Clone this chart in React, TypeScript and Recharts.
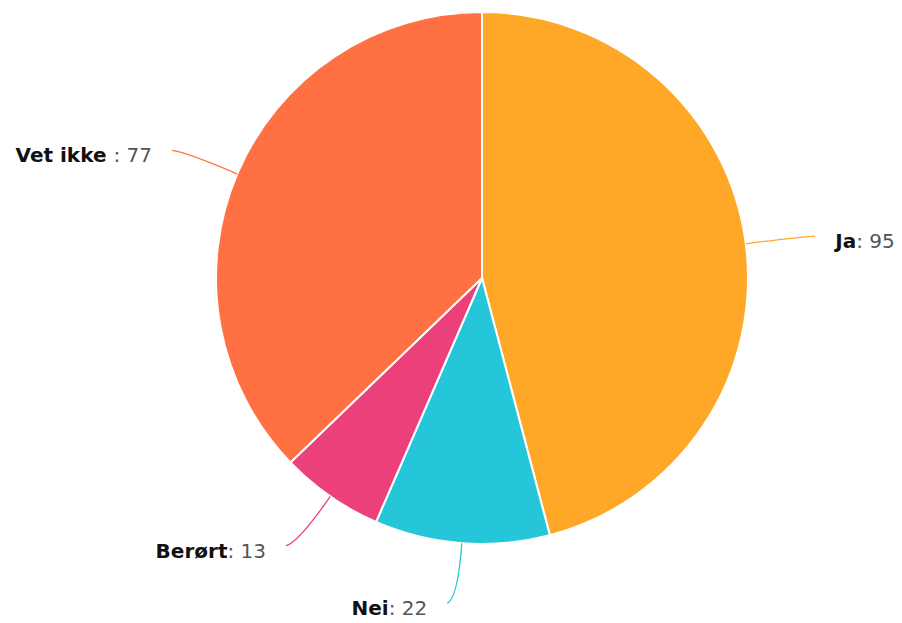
import React from 'react';
import { PieChart, Pie, Cell } from 'recharts';

// Svarfordeling
const names = ['Ja', 'Nei', 'Berørt', 'Vet ikke '];
const values = [95, 22, 13, 77];
const colors = ['#ffa726', '#26c6da', '#ec407a', '#ff7043'];

const data = names.map((name, i) => ({ name, value: values[i] }));

const RAD = Math.PI / 180;
const EXT = 60; // lengde på etikettlinje ut fra kanten
const HOOK = 10;
const GAP = 20;

function pt(cx: number, cy: number, r: number, angle: number) {
  return { x: cx + r * Math.cos(-angle * RAD), y: cy + r * Math.sin(-angle * RAD) };
}

const renderLine = (props: any) => {
  const { cx, cy, midAngle, outerRadius, index } = props;
  const a = pt(cx, cy, outerRadius, midAngle);
  const c = pt(cx, cy, outerRadius + EXT - 4, midAngle);
  const m = pt(cx, cy, outerRadius + EXT, midAngle);
  const dir = Math.cos(-midAngle * RAD) >= 0 ? 1 : -1;
  const e = { x: m.x + dir * HOOK, y: m.y };
  return (
    <path
      key={`line-${index}`}
      d={`M${a.x},${a.y} Q${c.x},${c.y} ${e.x},${e.y}`}
      stroke={colors[index]}
      strokeWidth={1.3}
      fill="none"
    />
  );
};

const renderLabel = (props: any) => {
  const { cx, cy, midAngle, outerRadius, index } = props;
  const m = pt(cx, cy, outerRadius + EXT, midAngle);
  const dir = Math.cos(-midAngle * RAD) >= 0 ? 1 : -1;
  const x = m.x + dir * (HOOK + GAP);
  return (
    <text
      key={`label-${index}`}
      x={x}
      y={m.y + 5}
      textAnchor={dir > 0 ? 'start' : 'end'}
      dominantBaseline="central"
      fontFamily="'DejaVu Sans', Verdana, sans-serif"
      fontSize={20}
    >
      <tspan fontWeight="bold" fill="#111">{names[index]}</tspan>
      <tspan fill="#555">: {values[index]}</tspan>
    </text>
  );
};

export default function App() {
  return (
    <div style={{ position: 'absolute', left: 0, top: 0, width: 902, height: 623, background: '#fff' }}>
      <PieChart width={902} height={623} margin={{ top: 0, right: 0, bottom: 0, left: 0 }}>
        <Pie
          data={data}
          dataKey="value"
          nameKey="name"
          cx={482}
          cy={278}
          outerRadius={266}
          startAngle={90}
          endAngle={-270}
          stroke="#fff"
          strokeWidth={2}
          label={renderLabel}
          labelLine={renderLine}
          isAnimationActive={false}
        >
          {data.map((d, i) => (
            <Cell key={d.name} fill={colors[i]} />
          ))}
        </Pie>
      </PieChart>
    </div>
  );
}
